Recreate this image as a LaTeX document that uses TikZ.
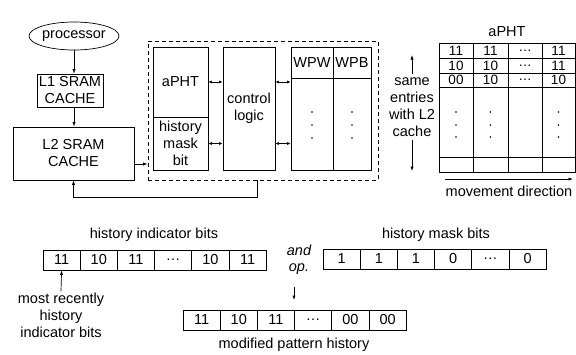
\documentclass[tikz,border=0pt]{standalone}
\usepackage{fontspec}
\setmainfont{Liberation Sans}
\usetikzlibrary{shapes.geometric,arrows.meta}

\tikzset{
  box/.style={draw, align=center, inner sep=0pt},
  bitcell/.style={draw, minimum width=37.2pt, minimum height=20pt, inner sep=0pt},
  tip/.style={-{Latex[length=4.5pt,width=3.2pt]}},
  dtip/.style={{Latex[length=3.5pt,width=3pt]}-{Latex[length=3.5pt,width=3pt]}},
}

\begin{document}
\begin{tikzpicture}[x=1pt,y=-1pt,line width=0.7pt,font=\fontsize{14.5}{17}\selectfont]
\useasboundingbox (0,0) rectangle (576,354);

% processor and the two caches
\node[draw,ellipse,minimum width=82pt,minimum height=28pt,inner sep=0pt] (proc) at (74,36) {processor};
\node[box,minimum width=66pt,minimum height=33pt] (l1) at (70,90.5) {L1 SRAM\\CACHE};
\node[box,minimum width=121pt,minimum height=53pt] (l2) at (73.5,153.5) {L2 SRAM\\CACHE};
\draw[tip] (proc.south) -- (proc.south |- l1.north);
\draw[tip] (proc.south |- l1.south) -- (proc.south |- l2.north);

% predictor unit
\node[draw,dash pattern=on 4pt off 3pt,minimum width=230pt,minimum height=139pt] (pht) at (263,110.5) {};
\node[box,minimum width=55pt,minimum height=70pt] (apht) at (180.5,82) {aPHT};
\node[box,minimum width=55pt,minimum height=53pt] (mask) at (180.5,143.5) {history\\mask\\bit};
\node[box,minimum width=52pt,minimum height=123pt] (ctrl) at (249,108.5) {control\\logic};
\node[box,minimum width=42pt,minimum height=31pt] (wpw) at (312,62.5) {WPW};
\node[box,minimum width=38pt,minimum height=31pt] (wpb) at (352,62.5) {WPB};
\node[box,minimum width=42pt,minimum height=92pt] (wpwcol) at (312,124) {};
\node[box,minimum width=38pt,minimum height=92pt] (wpbcol) at (352,124) {};
\foreach \cx in {312,352}
  \foreach \cy in {112,125,138}
    \fill (\cx,\cy) circle (0.9pt);

\draw[dtip] (apht.east) -- (apht.east -| ctrl.west);
\draw[dtip] (mask.east) -- (mask.east -| ctrl.west);
\draw[dtip] (apht.east -| ctrl.east) -- (apht.east -| wpwcol.west);
\draw[dtip] (mask.east -| ctrl.east) -- (mask.east -| wpwcol.west);
\draw[tip] ([yshift=-10.5pt]l2.east) -- ([yshift=-10.5pt]l2.east -| pht.west);
\draw[tip] ([xshift=-6pt]pht.south) -- ++(0,17) -| (l2.south);

% aPHT table
\node[align=center] (same) at (412,107) {same\\entries\\with L2\\cache};
\coordinate (uptip) at (412,55);
\coordinate (downtip) at (412,171);
\draw[tip] (same.north) -- (uptip);
\draw[tip] (same.south) -- (downtip);

\node (tabtitle) at (507,32) {aPHT};
\draw (439,43) rectangle (575,172);
\foreach \yy in {58,73,87,157} \draw (439,\yy) -- (575,\yy);
\foreach \xx in {473,508,542} \draw (\xx,43) -- (\xx,172);
\foreach \ca/\cb/\cd [count=\r] in {11/11/11, 10/10/11, 00/10/10} {
  \node[font=\fontsize{13.5}{15}\selectfont] at (456,{36+14.7*\r}) {\ca};
  \node[font=\fontsize{13.5}{15}\selectfont] at (490.5,{36+14.7*\r}) {\cb};
  \node[font=\fontsize{13.5}{15}\selectfont] at (525,{36+14.7*\r}) {\dots};
  \node[font=\fontsize{13.5}{15}\selectfont] at (558.5,{36+14.7*\r}) {\cd};
}
\foreach \cx in {456,490.5,558.5}
  \foreach \cy in {112,125,137}
    \fill (\cx,\cy) circle (0.9pt);

\coordinate (mvstart) at (445,179);
\coordinate (mvend) at (573,179);
\draw[tip] (mvstart) -- (mvend);
\node (mvtext) at (509,191) {movement direction};

% bit vectors
\node (hititle) at (154,235) {history indicator bits};
\foreach \t [count=\i] in {11,10,11,{\dots},10,11}
  \node[bitcell] (hi\i) at ({43+37.2*(\i-0.5)},260) {\t};
\node[align=center,inner sep=1pt] (recent) at (61,315) {most recently\\history\\indicator bits};
\draw[tip] (recent.north) -- (hi1.south);

\node (hmtitle) at (436,235) {history mask bits};
\foreach \t [count=\i] in {1,1,1,0,{\dots},0}
  \node[bitcell] (hm\i) at ({323+37.2*(\i-0.5)},259) {\t};

\node[align=center,font=\fontsize{14.5}{16}\selectfont\itshape] (andop) at (299,260) {and\\op.};
\coordinate (andtip) at (294,300);
\draw[tip] (andop.south -| andtip) ++(0,9) -- (andtip);

\foreach \t [count=\i] in {11,10,11,{\dots},00,00}
  \node[bitcell] (mp\i) at ({183+37.2*(\i-0.5)},320) {\t};
\node (mptitle) at (294,345) {modified pattern history};
\end{tikzpicture}
\end{document}
